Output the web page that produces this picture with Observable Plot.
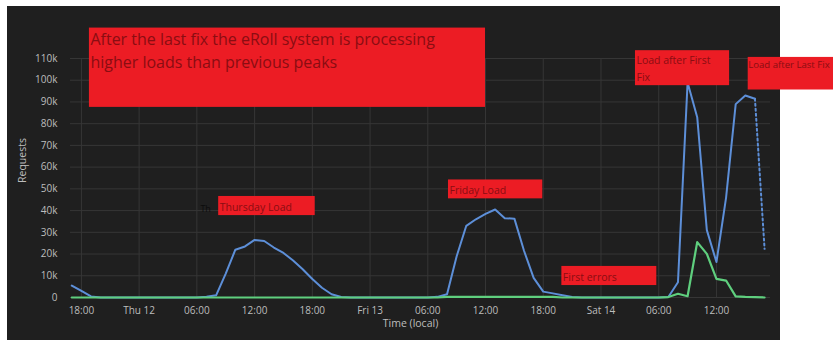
<!DOCTYPE html>
<html><head><meta charset="utf-8">
<script src="https://cdn.jsdelivr.net/npm/d3@7"></script>
<script src="https://cdn.jsdelivr.net/npm/@observablehq/plot@0.6"></script>
<style>
html,body{margin:0;padding:0;background:#fff;overflow:hidden;width:833px;height:340px}
#panel{position:absolute;left:7px;top:6px;width:773px;height:334px;background:#1f1f1f}
#chart{position:absolute;left:0;top:0}
</style></head><body>
<div id="panel"></div><div id="chart"></div>
<script>
// hourly samples, first sample Wed 11 Mar 17:00 (local)
const startTime = new Date(2020, 2, 11, 17);

// Requests per hour
const requests = [
  5500, 3000, 500,                                   // Wed 17:00-19:00
  0, 0, 0, 0, 0, 0, 0, 0, 0, 0, 0,                   // Wed 20:00 - Thu 06:00
  300, 1000, 11000, 22000, 23500, 26500, 26000, 23000, 20500, 17000, 13000, 8500, 4500, 1500, 200, // Thu 07:00-21:00
  0, 0, 0, 0, 0, 0, 0, 0, 0,                         // Thu 22:00 - Fri 06:00
  300, 1500, 19000, 33000, 36000, 38500, 40500, 36500, 36300, 21500, 9000, 2700, 1900, 1000, 200, // Fri 07:00-21:00
  0, 0, 0, 0, 0, 0, 0, 0, 0,                         // Fri 22:00 - Sat 06:00
  200, 7000, 99000, 83000, 31000, 16300, 46000, 89000, 93000, 91500, 22400 // Sat 07:00-17:00
];

// Failed requests per hour
const errors = [
  0, 0, 0,
  0, 0, 0, 0, 0, 0, 0, 0, 0, 0, 0,
  0, 0, 0, 0, 0, 0, 0, 0, 0, 0, 0, 0, 0, 0, 0,
  0, 0, 0, 0, 0, 0, 0, 0, 0,
  0, 300, 300, 300, 300, 300, 300, 300, 300, 300, 300, 300, 300, 0, 0,
  0, 0, 0, 0, 0, 0, 0, 0, 0,
  200, 1700, 600, 25500, 20100, 8600, 7800, 500, 300, 200, 0
];

const yTicks = [0, 10000, 20000, 30000, 40000, 50000, 60000, 70000, 80000, 90000, 100000, 110000];

// callouts anchored in time / request units
const headline = [{
  from: new Date(2020, 2, 11, 18, 50), to: new Date(2020, 2, 13, 12, 0),
  top: 124000, bottom: 87500, mid: 114500,
  text: "After the last fix the eRoll system is processing\nhigher loads than previous peaks"
}];
const notes = [
  {from: new Date(2020, 2, 12, 8, 16), to: new Date(2020, 2, 12, 18, 18), top: 46500, bottom: 37700, mid: 42300, text: "Thursday Load"},
  {from: new Date(2020, 2, 13, 8, 9), to: new Date(2020, 2, 13, 17, 57), top: 54100, bottom: 45400, mid: 50000, text: "Friday Load"},
  {from: new Date(2020, 2, 13, 19, 56), to: new Date(2020, 2, 14, 5, 48), top: 14300, bottom: 5500, mid: 10100, text: "First errors"},
  {from: new Date(2020, 2, 14, 3, 35), to: new Date(2020, 2, 14, 13, 22), top: 113600, bottom: 97500, mid: 106000, text: "Load after First\nFix"}
];
const edgeNote = [
  {from: new Date(2020, 2, 14, 15, 18), to: new Date(2020, 2, 15, 0, 10), top: 110500, bottom: 95500, mid: 107200, text: "Load after Last Fix"}
];
const stray = [{at: new Date(2020, 2, 12, 6, 22), v: 40900, text: "Th"}];

const rows = requests.map((r, i) => ({time: d3.timeHour.offset(startTime, i), requests: r, errors: errors[i]}));
const last = rows[rows.length - 1].time;
const domain = [d3.timeMinute.offset(startTime, -8), d3.timeMinute.offset(last, 37)];
const xTicks = d3.timeHour.every(6).range(domain[0], domain[1]);
const fmtDay = d3.timeFormat("%a %-d"), fmtHour = d3.timeFormat("%H:%M");
const xFmt = d => d.getHours() === 0 ? fmtDay(d) : fmtHour(d);
const yFmt = d => d === 0 ? "0" : (d / 1000) + "k";

const grid = "#363636";
const boxFill = "#ec1c24", noteInk = "#8a0d12";

const chart = Plot.plot({
  width: 833, height: 340,
  marginLeft: 70, marginRight: 63, marginTop: 58, marginBottom: 43,
  style: {background: "transparent", color: "#bdbdbd", fontFamily: "'Open Sans', sans-serif", fontSize: "10px"},
  x: {type: "time", domain},
  y: {domain: [0, 110000]},
  marks: [
    Plot.gridY(yTicks, {stroke: grid, strokeOpacity: 1}),
    Plot.gridX(xTicks, {stroke: grid, strokeOpacity: 1}),
    Plot.axisY(yTicks, {tickSize: 0, tickPadding: 13, tickFormat: yFmt, fontSize: 10, label: null}),
    Plot.text(["Requests"], {frameAnchor: "left", dx: -48, dy: 5, rotate: -90, fontSize: 10.5, fill: "#bdbdbd"}),
    Plot.axisX(xTicks, {tickSize: 0, tickPadding: 9, tickFormat: xFmt, fontSize: 10, label: null}),
    Plot.text(["Time (local)"], {frameAnchor: "bottom", dx: -10, dy: 29, fontSize: 10.5, fill: "#bdbdbd"}),
    Plot.lineY(rows.slice(0, rows.length - 1), {x: "time", y: "requests", stroke: "#5d8fd8", strokeWidth: 2}),
    Plot.lineY(rows.slice(rows.length - 2), {x: "time", y: "requests", stroke: "#5d8fd8", strokeWidth: 2, strokeDasharray: "2,3"}),
    Plot.lineY(rows, {x: "time", y: "errors", stroke: "#5fcf7e", strokeWidth: 2.2}),
    Plot.text(stray, {x: "at", y: "v", text: "text", fill: "#0c0c0c", fontSize: 9, textAnchor: "start"}),
    Plot.rectY(headline, {x1: "from", x2: "to", y1: "bottom", y2: "top", fill: boxFill}),
    Plot.text(headline, {x: "from", y: "mid", text: "text", textAnchor: "start", dx: 1, fill: noteInk, fontSize: 16, lineHeight: 1.45}),
    Plot.rectY(notes, {x1: "from", x2: "to", y1: "bottom", y2: "top", fill: boxFill}),
    Plot.text(notes, {x: "from", y: "mid", text: "text", textAnchor: "start", dx: 1, fill: noteInk, fontSize: 10.5, lineHeight: 1.6}),
    Plot.rectY(edgeNote, {x1: "from", x2: "to", y1: "bottom", y2: "top", fill: boxFill}),
    Plot.text(edgeNote, {x: "from", y: "mid", text: "text", textAnchor: "start", dx: 0, fill: noteInk, fontSize: 9.6})
  ]
});
document.getElementById("chart").appendChild(chart);
</script>
</body></html>
